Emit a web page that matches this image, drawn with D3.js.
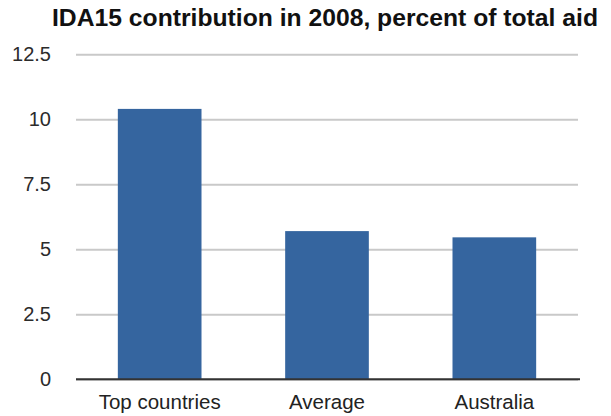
<!DOCTYPE html>
<html>
<head>
<meta charset="utf-8">
<script src="https://cdn.jsdelivr.net/npm/d3@7"></script>
<style>
  body { margin: 0; background: #fff; }
  svg { display: block; font-family: "Liberation Sans", Arial, Helvetica, sans-serif; }
</style>
</head>
<body>
<div id="vis"></div>
<script>
const FRAME_WIDTH = 611;
const FRAME_HEIGHT = 416;
const MARGINS = {left: 76, right: 33, top: 54.3, bottom: 36.7};

const VIS_WIDTH = FRAME_WIDTH - MARGINS.left - MARGINS.right;
const VIS_HEIGHT = FRAME_HEIGHT - MARGINS.top - MARGINS.bottom;

// data
const TITLE = "IDA15 contribution in 2008, percent of total aid";
const CATEGORIES = ["Top countries", "Average", "Australia"];
const VALUES = [10.4, 5.7, 5.46];
const Y_TICKS = [0, 2.5, 5, 7.5, 10, 12.5];
const Y_TICK_LABELS = ["0", "2.5", "5", "7.5", "10", "12.5"];

const FRAME = d3.select("#vis")
                .append("svg")
                .attr("width", FRAME_WIDTH)
                .attr("height", FRAME_HEIGHT);

const X_SCALE = d3.scaleBand()
                  .domain(CATEGORIES)
                  .range([0, VIS_WIDTH])
                  .paddingInner(0.5)
                  .paddingOuter(0.25);

const Y_SCALE = d3.scaleLinear()
                  .domain([0, 12.5])
                  .range([VIS_HEIGHT, 0]);

// title
FRAME.append("text")
     .attr("x", 325)
     .attr("y", 26)
     .attr("text-anchor", "middle")
     .attr("font-size", "24.7px")
     .attr("font-weight", "bold")
     .attr("fill", "#111")
     .text(TITLE);

const G = FRAME.append("g")
               .attr("transform", "translate(" + MARGINS.left + "," + MARGINS.top + ")");

// y axis with grid lines
const yAxis = G.append("g")
               .call(d3.axisLeft(Y_SCALE)
                       .tickValues(Y_TICKS)
                       .tickSize(-VIS_WIDTH)
                       .tickPadding(25)
                       .tickFormat((d, i) => Y_TICK_LABELS[i]));
yAxis.select(".domain").remove();
yAxis.selectAll(".tick line")
     .attr("stroke", "#c9c9c9")
     .attr("stroke-width", 2);
yAxis.selectAll(".tick text")
     .attr("font-size", "20px")
     .attr("fill", "#2b2b2b")
     .attr("font-family", "\"Liberation Sans\", Arial, Helvetica, sans-serif");

// bars
G.selectAll("rect.bar")
 .data(VALUES)
 .enter()
 .append("rect")
   .attr("class", "bar")
   .attr("x", (d, i) => X_SCALE(CATEGORIES[i]))
   .attr("y", (d) => Y_SCALE(d))
   .attr("width", X_SCALE.bandwidth())
   .attr("height", (d) => VIS_HEIGHT - Y_SCALE(d))
   .attr("fill", "#35659f");

// baseline
G.append("line")
 .attr("x1", 0)
 .attr("x2", VIS_WIDTH + 2)
 .attr("y1", Y_SCALE(0))
 .attr("y2", Y_SCALE(0))
 .attr("stroke", "#333")
 .attr("stroke-width", 2);

// x axis labels
const xAxis = G.append("g")
               .attr("transform", "translate(0," + VIS_HEIGHT + ")")
               .call(d3.axisBottom(X_SCALE).tickSize(0).tickPadding(15));
xAxis.select(".domain").remove();
xAxis.selectAll(".tick text")
     .attr("font-size", "20.5px")
     .attr("fill", "#222")
     .attr("font-family", "\"Liberation Sans\", Arial, Helvetica, sans-serif");
</script>
</body>
</html>
